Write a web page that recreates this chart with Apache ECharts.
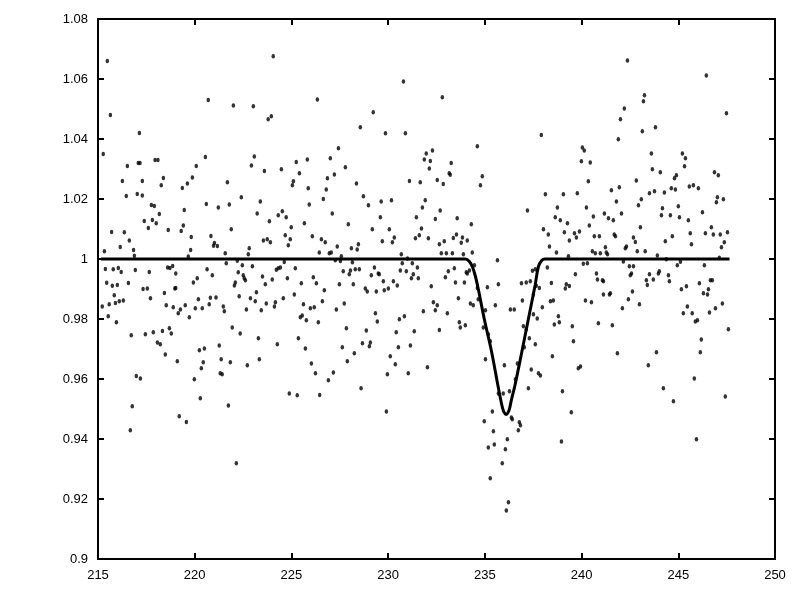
<!DOCTYPE html>
<html><head><meta charset="utf-8">
<script src="https://cdn.jsdelivr.net/npm/echarts@6/dist/echarts.min.js"></script>
<style>html,body{margin:0;padding:0;background:#fff}#c{width:800px;height:600px}</style>
</head><body><div id="c"></div>
<script>
// x axis: time, y axis: relative flux
const xTicks = [215, 250, 5];
const yTicks = [0.9, 1.08, 0.02];

const observations = [
[215.48,1.066],[215.64,1.048],[217.14,1.042],[215.27,1.035],[216.52,1.031],[217.08,1.032],[217.17,1.032],[217.95,1.033],[218.1,1.033],[220.08,1.031],[220.55,1.034],[220.7,1.053],[216.26,1.026],[217.29,1.026],[218.38,1.027],[218.27,1.0246],[219.88,1.0272],[219.62,1.0252],[219.36,1.0237],[216.46,1.021],[217.03,1.0217],[217.29,1.0212],[217.76,1.018],[217.91,1.0177],[219.46,1.0163],[220.6,1.0183],[218.17,1.015],[217.39,1.0127],[217.81,1.013],[218.01,1.0119],[217.6,1.0103],[218.63,1.0097],[215.7,1.009],[216.36,1.0089],[219.3,1.0093],[219.41,1.0112],[216.62,1.0062],[219.82,1.0073],[216.15,1.004],[215.33,1.0026],[216.84,1.003],[216.88,1.0011],[219.79,1.003],[219.67,1.0008],
[215.38,0.9967],[215.79,0.9966],[216.05,0.997],[216.2,0.9957],[216.93,0.9963],[217.65,0.9957],[218.6,0.9972],[218.72,0.997],[218.86,0.9977],[219.02,0.9952],[220.64,0.9966],
[215.45,0.9921],[215.74,0.9911],[216.0,0.9913],[216.57,0.992],[217.33,0.99],[217.55,0.9902],[218.97,0.9902],[219.93,0.9922],[220.13,0.9936],
[215.22,0.9842],[215.53,0.9809],[215.58,0.9849],[215.84,0.9879],[215.9,0.9853],[216.1,0.9859],[216.31,0.9862],[215.95,0.9789],[217.71,0.9869],[218.43,0.9887],[218.53,0.9846],[218.89,0.9839],[219.02,0.9903],[219.15,0.9819],[219.26,0.9832],[219.51,0.9846],[219.72,0.9806],[220.03,0.9836],[220.19,0.9866],[220.39,0.9836],[220.75,0.9849],[220.81,0.9871],
[216.72,0.9746],[217.45,0.9749],[217.86,0.9756],[218.07,0.9722],[218.22,0.9716],[218.33,0.976],[218.48,0.9682],[218.69,0.9769],[218.79,0.9752],[219.1,0.9659],[220.24,0.9696],[220.5,0.9702],[220.44,0.9656],[220.34,0.9636],[216.98,0.961],[217.19,0.9602],[219.98,0.9599],[220.29,0.9536],[216.77,0.9509],[219.2,0.9476],[219.57,0.9457],[216.67,0.9429],
[224.06,1.0676],[222.0,1.0512],[223.03,1.0509],[226.34,1.0532],[223.8,1.0466],[223.96,1.0476],[223.08,1.0342],[222.93,1.0312],[223.6,1.0293],[224.48,1.0299],[225.25,1.0323],[225.82,1.0332],[225.41,1.0286],[221.69,1.0256],[225.1,1.0259],[225.05,1.0246],[225.87,1.0236],[222.41,1.0206],[221.22,1.0172],[221.79,1.0182],[223.39,1.0192],[225.92,1.0182],[223.23,1.0152],[224.32,1.0146],[224.53,1.0159],[224.73,1.0139],[223.86,1.0126],[225.67,1.0119],[221.89,1.0099],[224.99,1.0106],[220.84,1.0077],[221.02,1.0053],[220.97,1.0044],[221.17,1.0043],[223.55,1.0062],[223.75,1.0066],[223.91,1.0056],[224.68,1.0079],[224.94,1.0066],[224.84,1.0046],[226.08,1.0076],[221.58,1.0019],[222.82,1.0036],[222.77,1.0016],[226.44,1.0022],
[220.91,0.9946],[221.63,0.9986],[222.2,0.9994],[222.46,0.9979],[222.98,0.9976],[222.25,0.9956],[222.51,0.9946],[222.56,0.9936],[222.62,0.9929],[223.5,0.9942],[222.1,0.9922],[222.05,0.9912],[223.65,0.9916],[224.01,0.9932],[224.22,0.9964],[224.32,0.9969],[224.43,0.9972],[224.63,0.999],[224.79,0.9936],[225.2,0.9969],[225.51,0.9919],[226.13,0.9939],[226.29,0.9919],
[221.1,0.9872],[221.48,0.9842],[221.53,0.9826],[222.3,0.9876],[222.67,0.9832],[222.88,0.9869],[223.13,0.9859],[223.19,0.9889],[223.44,0.9829],[223.7,0.9852],[224.12,0.9842],[224.17,0.9856],[224.58,0.9869],[225.15,0.9882],[225.62,0.9849],[225.98,0.9836],[226.18,0.9839],[225.46,0.9806],[225.56,0.9812],[225.77,0.9796],[226.39,0.9789],[221.94,0.9772],[222.35,0.9752],[223.29,0.9736],[224.27,0.9716],[225.36,0.9736],[225.72,0.9702],[221.27,0.9712],[221.37,0.9666],[221.84,0.9656],[222.72,0.9646],[223.34,0.9666],[226.03,0.9652],[221.32,0.9619],[221.42,0.9616],[226.24,0.9619],[224.89,0.9552],[225.3,0.9546],[226.46,0.9547],[221.74,0.9512],[222.15,0.9319],
[230.79,1.0592],[229.23,1.0489],[228.56,1.0439],[229.86,1.0419],[230.89,1.0419],[227.43,1.0369],[227.01,1.0336],[227.79,1.0306],[227.22,1.0282],[226.86,1.0269],[226.8,1.0232],[226.65,1.02],[227.11,1.0152],[228.36,1.0252],[228.72,1.0209],[228.98,1.0179],[229.64,1.0192],[230.17,1.0196],[231.1,1.026],[231.66,1.0256],[231.97,1.0352],[231.87,1.0332],[232.13,1.0302],[231.92,1.0196],[231.77,1.0172],[231.46,1.0139],[227.94,1.0116],[229.18,1.0099],[229.6,1.0139],[230.06,1.0099],[231.72,1.0102],[231.61,1.0079],[231.41,1.0069],[232.08,1.0069],[226.55,1.0066],[226.75,1.0056],[227.37,1.0042],[228.1,1.0036],[228.4,1.0032],[228.46,1.0049],[229.7,1.0059],[230.22,1.0056],[230.32,1.0072],[226.96,1.0019],[227.06,1.0022],[227.58,1.0009],[230.68,1.0016],[231.0,1.0002],[227.27,0.9996],[227.53,0.9993],[228.15,0.9989],
[227.68,0.9959],[228.05,0.9962],[227.99,0.9949],[228.3,0.9966],[228.51,0.9966],[229.29,0.9972],[229.13,0.9946],[229.49,0.9952],[229.54,0.9949],[230.63,0.9962],[230.73,0.9986],[230.94,0.9959],[231.25,0.9986],[231.51,0.9972],[231.3,0.9949],[231.2,0.9936],[231.56,0.9936],[227.48,0.9916],[228.2,0.9916],[229.75,0.9926],[230.27,0.9926],[230.47,0.9912],[230.01,0.9902],[228.82,0.9902],
[226.7,0.9896],[228.92,0.9892],[229.39,0.9892],[229.8,0.9896],[226.6,0.9859],[227.32,0.9832],[227.73,0.9852],[227.84,0.9769],[228.87,0.9762],[229.34,0.9819],[229.44,0.9792],[230.42,0.9756],[230.58,0.9799],[230.84,0.9809],[231.35,0.9759],[231.82,0.9826],[227.63,0.9706],[228.67,0.9719],[229.08,0.9722],[229.03,0.9709],[228.25,0.9686],[227.89,0.9659],[230.11,0.9676],[230.53,0.9706],[231.15,0.9712],[230.37,0.9649],[229.96,0.9616],[231.04,0.9619],[232.03,0.9639],[227.17,0.9622],[226.91,0.9596],[228.6,0.9569],[229.91,0.9492],
[232.8,1.0539],[234.61,1.0376],[232.29,1.0362],[232.18,1.0327],[233.26,1.032],[233.16,1.0286],[233.21,1.0281],[232.54,1.0263],[232.85,1.025],[234.87,1.0276],[234.77,1.0246],[232.69,1.0162],[232.44,1.0133],[233.57,1.0136],[234.3,1.0116],[237.2,1.0162],[233.53,1.0082],[233.37,1.007],[233.84,1.0072],[234.09,1.0062],[233.78,1.0054],[232.65,1.0049],[232.9,1.0059],[232.75,1.0019],[233.01,1.0019],[233.32,1.0019],[233.89,1.0016],[234.35,1.0022],[235.65,0.9996],[234.46,0.9979],[233.11,0.9959],[233.42,0.9969],[232.96,0.9939],[234.2,0.9962],[234.09,0.9952],[234.04,0.9956],[237.46,0.9961],[237.61,0.9966],[232.23,0.9909],[233.48,0.9922],[233.94,0.9922],[235.13,0.9906],[235.7,0.9916],[236.89,0.9919],[237.14,0.9922],[237.35,0.9926],
[234.61,0.9903],[232.34,0.9856],[232.44,0.9829],[232.54,0.9846],[233.06,0.9819],[233.63,0.9869],[234.25,0.9852],[234.4,0.9846],[234.66,0.9866],[235.54,0.9846],[236.32,0.9832],[236.52,0.9832],[236.94,0.9862],[237.51,0.9882],[237.66,0.9911],[232.65,0.9763],[233.68,0.9789],[233.73,0.9772],[233.99,0.9779],[234.92,0.9772],[235.03,0.9829],[235.18,0.9749],[235.28,0.9726],[236.99,0.9776],[237.14,0.9766],[237.3,0.9736],[237.51,0.9816],[237.61,0.9716],[237.04,0.9706],[235.03,0.9666],[236.01,0.9646],[236.68,0.9652],[236.58,0.9599],[237.4,0.9632],[237.77,0.9619],[237.25,0.9569],[235.7,0.9552],[235.95,0.9552],[236.27,0.9559],[235.39,0.9492],[234.97,0.9459],[236.37,0.9472],[236.42,0.9466],[236.78,0.9456],[236.84,0.9446],[236.73,0.9429],[235.44,0.9426],[236.16,0.9399],[235.49,0.9382],[235.18,0.9372],[236.06,0.9366],[235.9,0.9319],[235.28,0.9269],[236.22,0.9189],[236.11,0.9162],
[242.37,1.0662],[237.92,1.0413],[243.25,1.0546],[243.2,1.0526],[242.21,1.0502],[242.01,1.0466],[243.14,1.0426],[241.9,1.0399],[240.04,1.0372],[240.14,1.0362],[239.99,1.0326],[240.45,1.0322],[240.35,1.0259],[242.83,1.0262],[241.54,1.0229],[241.95,1.0239],[238.13,1.0216],[239.06,1.0216],[239.78,1.0219],[241.8,1.0192],[243.09,1.0199],[242.94,1.0179],[243.51,1.0219],[238.75,1.0172],[240.25,1.0172],[238.64,1.0139],[238.9,1.0129],[239.27,1.0119],[241.18,1.0152],[241.39,1.0136],[241.64,1.0129],[240.61,1.0142],[242.06,1.0152],[240.4,1.0112],[243.04,1.0106],[238.03,1.0099],[238.28,1.0082],[239.11,1.0089],[239.63,1.0086],[239.89,1.0092],[239.73,1.0072],[239.37,1.0062],[240.66,1.0076],[240.92,1.0076],[241.69,1.0082],[241.75,1.0076],[242.68,1.0072],[242.78,1.0057],[238.34,1.0042],[238.7,1.0022],[239.32,1.0009],[240.56,1.0026],[240.71,1.0019],[240.97,1.0019],[241.23,1.0039],[241.28,1.0022],[241.34,1.0016],[242.32,1.0042],[242.26,1.0036],[242.88,1.0026],[243.29,1.0026],
[238.23,0.9972],[240.09,0.9984],[240.3,0.9986],[242.16,0.9992],[239.68,0.9949],[240.77,0.9952],[240.82,0.9932],[241.08,0.9929],[241.13,0.9926],[242.47,0.9976],[242.68,0.9976],[242.52,0.9946],[242.58,0.9952],[243.51,0.9949],[243.35,0.9929],[238.44,0.992],[239.21,0.9916],[239.37,0.991],[243.4,0.9913],[237.82,0.9903],
[239.16,0.9902],[238.39,0.9859],[238.54,0.9862],[237.97,0.9839],[237.71,0.9802],[238.8,0.9809],[238.59,0.9782],[238.85,0.9789],[239.52,0.9776],[240.2,0.9862],[240.51,0.9856],[241.13,0.9882],[241.44,0.9882],[241.49,0.9886],[242.11,0.9836],[242.42,0.9866],[242.63,0.9892],[242.99,0.9849],[240.87,0.9786],[241.59,0.9779],[239.58,0.9726],[238.49,0.9676],[241.85,0.9686],[237.87,0.9612],[239.83,0.9636],[239.94,0.9642],[243.45,0.9646],[239.01,0.9559],[239.47,0.9489],[238.96,0.9392],
[246.45,1.0612],[247.49,1.0486],[243.82,1.0439],[243.61,1.0352],[245.21,1.0352],[245.37,1.0336],[245.32,1.0309],[243.66,1.0299],[244.07,1.0289],[244.8,1.0269],[244.9,1.0279],[246.87,1.0289],[247.07,1.0279],[243.77,1.0226],[244.28,1.0222],[244.64,1.0236],[244.85,1.0232],[245.57,1.0242],[245.78,1.0246],[246.04,1.0236],[247.02,1.0206],[246.97,1.0189],[247.33,1.0199],[244.18,1.0169],[244.13,1.0146],[244.59,1.0146],[245.0,1.0176],[245.06,1.0139],[245.52,1.0129],[246.25,1.0156],[244.33,1.0059],[244.69,1.0076],[245.62,1.0086],[245.68,1.0049],[246.4,1.0086],[246.71,1.0106],[246.81,1.0082],[247.17,1.0082],[247.54,1.0089],[247.38,1.0056],[247.23,1.0039],[243.92,1.0012],[244.38,0.9999],[247.12,1.0004],[244.95,0.9979],[245.11,0.9991],[246.35,0.9979],
[243.71,0.9932],[243.97,0.9952],[244.02,0.9959],[244.49,0.9946],[244.54,0.9926],[245.42,0.9909],[246.09,0.9919],[246.66,0.9929],[246.76,0.9929],[246.56,0.9899],[245.16,0.9899],
[246.3,0.9886],[246.51,0.9882],[245.47,0.9842],[245.26,0.9819],[245.72,0.9819],[245.88,0.9792],[245.99,0.9796],[246.61,0.9822],[246.92,0.9836],[247.28,0.9852],[247.59,0.9766],[246.19,0.9732],[246.14,0.9689],[243.87,0.9689],[245.83,0.9602],[244.23,0.9569],[244.75,0.9526],[247.43,0.9542],[245.94,0.9399]
];

const modelTime = [215.15, 234.0, 234.2, 234.35, 234.5, 234.66, 234.97, 235.35, 235.67, 235.84, 235.92, 236.0, 236.1, 236.2, 236.28, 236.35, 236.56, 236.91, 237.25, 237.6, 237.77, 237.95, 238.1, 247.65];
const modelFlux = [1.0, 1.0, 0.9992, 0.9975, 0.9945, 0.990, 0.980, 0.969, 0.958, 0.9524, 0.9502, 0.9488, 0.9482, 0.9488, 0.9502, 0.9524, 0.958, 0.969, 0.980, 0.9913, 0.9975, 0.9996, 1.0, 1.0];

const chart = echarts.init(document.getElementById('c'), null, {renderer: 'canvas'});
const lineStyle = {color: '#000', width: 2};
const labelStyle = {color: '#000', fontFamily: 'Liberation Sans, Arial, sans-serif', fontSize: 13, margin: 10};
function xAx(pos, showLabel) {
  return {type: 'value', position: pos, min: xTicks[0], max: xTicks[1], interval: xTicks[2],
    axisLine: {show: true, onZero: false, lineStyle: lineStyle},
    axisTick: {show: true, inside: true, length: 6, lineStyle: lineStyle},
    axisLabel: Object.assign({show: showLabel}, labelStyle),
    splitLine: {show: false}};
}
function yAx(pos, showLabel) {
  return {type: 'value', position: pos, min: yTicks[0], max: yTicks[1], interval: yTicks[2],
    axisLine: {show: true, onZero: false, lineStyle: lineStyle},
    axisTick: {show: true, inside: true, length: 6, lineStyle: lineStyle},
    axisLabel: Object.assign({show: showLabel, formatter: v => String(+v.toFixed(2))}, labelStyle),
    splitLine: {show: false}};
}
chart.setOption({
  animation: false,
  backgroundColor: '#fff',
  grid: {left: 98, right: 25, top: 19, bottom: 41},
  xAxis: [xAx('bottom', true), xAx('top', false)],
  yAxis: [yAx('left', true), yAx('right', false)],
  series: [
    {type: 'scatter', xAxisIndex: 0, yAxisIndex: 0, data: observations,
     symbol: 'circle', symbolSize: [3.5, 4.5], itemStyle: {color: '#000'}, z: 2},
    {type: 'line', xAxisIndex: 0, yAxisIndex: 0,
     data: modelTime.map((t, i) => [t, modelFlux[i]]),
     showSymbol: false, smooth: 0.35, lineStyle: {color: '#000', width: 3}, z: 3}
  ]
});
</script></body></html>
